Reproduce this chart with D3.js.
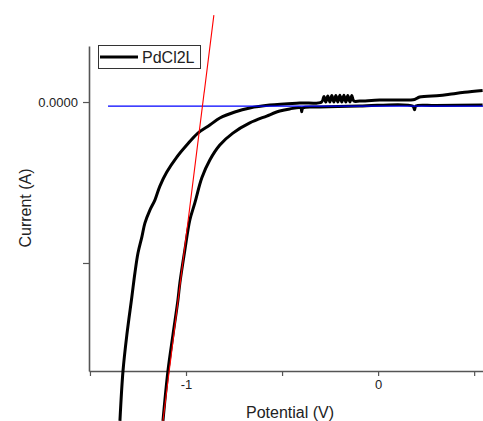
<!DOCTYPE html>
<html lang="en">
<head>
<meta charset="UTF-8">
<title>PdCl2L potential sweep</title>
<style>
  html, body { margin: 0; background: #fff; }
  text { font-family: 'Liberation Sans', Arial, sans-serif; fill: #222; }
  .trace { fill: none; stroke: #000; stroke-width: 3px; stroke-linejoin: round; }
</style>
</head>
<body>
<svg id="chart" width="483" height="421" viewBox="0 0 483 421"></svg>
<script src="https://d3js.org/d3.v7.min.js"></script>
<script>
// potential (V) / current (relative units, tick at -1 is unlabelled)
const branchOuterX = [-1.344, -1.328, -1.308, -1.282, -1.266, -1.250, -1.230, -1.214, -1.188, -1.162, -1.136,
  -1.100, -1.048, -0.996, -0.938, -0.876, -0.824, -0.746, -0.668, -0.564, -0.408, -0.294,
  -0.282, -0.272, -0.262, -0.251, -0.241, -0.230, -0.220, -0.210, -0.199, -0.189, -0.178,
  -0.168, -0.158, -0.147, -0.137, -0.126, -0.096, 0.008, 0.112, 0.190, 0.216, 0.320, 0.372, 0.450, 0.544];
const branchOuterY = [-1.981, -1.671, -1.447, -1.211, -1.062, -0.938, -0.839, -0.752, -0.671, -0.609, -0.522,
  -0.435, -0.342, -0.267, -0.193, -0.143, -0.099, -0.062, -0.037, -0.019, -0.006, 0.000,
  0.035, 0.000, 0.038, 0.000, 0.040, 0.000, 0.040, 0.000, 0.042, 0.000, 0.042, 0.000,
  0.040, 0.000, 0.040, 0.006, 0.006, 0.012, 0.012, 0.016, 0.031, 0.040, 0.048, 0.060, 0.072];

const branchInnerX = [-1.120, -1.094, -1.068, -1.042, -1.032, -1.006, -0.980, -0.954, -0.918, -0.876,
  -0.824, -0.756, -0.668, -0.580, -0.512, -0.460, -0.402, -0.398, -0.392,
  -0.304, -0.096, 0.180, 0.190, 0.196, 0.300, 0.544];
const branchInnerY = [-1.981, -1.671, -1.447, -1.230, -1.124, -0.919, -0.733, -0.627, -0.472, -0.360,
  -0.267, -0.193, -0.130, -0.087, -0.056, -0.043, -0.037, -0.060, -0.037,
  -0.031, -0.025, -0.025, -0.048, -0.025, -0.022, -0.019];

const tangentX = [-0.855, -1.120];
const tangentY = [0.540, -1.981];
const baselineX = [-1.406, 0.55];
const baselineY = [-0.025, -0.025];

const xTicks = [-1.5, -1, -0.5, 0, 0.5];
const xTickLabels = ["", "-1", "", "0", ""];
const yTicks = [0, -1];
const yTickLabels = ["0.0000", ""];
const seriesName = "PdCl2L";

const svg = d3.select("#chart");
const margin = {top: 46, right: 0, bottom: 50, left: 89};
const width = 483, height = 421;

const x = d3.scaleLinear().domain([-1.505, 0.546]).range([margin.left, width - margin.right]);
const y = d3.scaleLinear().domain([-1.671, 0.348]).range([height - margin.bottom, margin.top]);

const xAxis = svg.append("g")
  .attr("transform", "translate(0," + (height - margin.bottom) + ")")
  .call(d3.axisBottom(x).tickValues(xTicks).tickSize(5).tickSizeOuter(0).tickPadding(4)
    .tickFormat((d, i) => xTickLabels[i]));
const yAxis = svg.append("g")
  .attr("transform", "translate(" + margin.left + ",0)")
  .call(d3.axisLeft(y).tickValues(yTicks).tickSize(6).tickSizeOuter(0).tickPadding(5)
    .tickFormat((d, i) => yTickLabels[i]));

[xAxis, yAxis].forEach(function (g) {
  g.select(".domain").attr("stroke", "#555").attr("stroke-width", 1.6);
  g.selectAll(".tick line").attr("stroke", "#555").attr("stroke-width", 1.2);
  g.selectAll(".tick text").attr("font-size", 13).attr("fill", "#222")
    .style("font-family", "'Liberation Sans', Arial, sans-serif");
});

const line = d3.line().x(d => x(d[0])).y(d => y(d[1])).curve(d3.curveCatmullRom.alpha(0.5));
const straight = d3.line().x(d => x(d[0])).y(d => y(d[1]));
const zip = (xs, ys) => xs.map((v, i) => [v, ys[i]]);

svg.append("path").datum(zip(branchOuterX, branchOuterY)).attr("class", "trace").attr("d", line);
svg.append("path").datum(zip(branchInnerX, branchInnerY)).attr("class", "trace").attr("d", line);

svg.append("path").datum(zip(baselineX, baselineY))
  .attr("fill", "none").attr("stroke", "#0000ff").attr("stroke-width", 1.3).attr("d", straight);
svg.append("path").datum(zip(tangentX, tangentY))
  .attr("fill", "none").attr("stroke", "#ff0000").attr("stroke-width", 1.1).attr("d", straight);

// axis titles
svg.append("text")
  .attr("x", 290).attr("y", 418)
  .attr("text-anchor", "middle").attr("font-size", 16)
  .text("Potential (V)");
svg.append("text")
  .attr("transform", "translate(31,208) rotate(-90)")
  .attr("text-anchor", "middle").attr("font-size", 16)
  .text("Current (A)");

// legend
const legend = svg.append("g");
legend.append("rect")
  .attr("x", 98.5).attr("y", 45.5).attr("width", 102).attr("height", 23)
  .attr("fill", "#fff").attr("stroke", "#333").attr("stroke-width", 1);
legend.append("line")
  .attr("x1", 100).attr("x2", 138).attr("y1", 57).attr("y2", 57)
  .attr("stroke", "#000").attr("stroke-width", 3);
legend.append("text")
  .attr("x", 142).attr("y", 63).attr("font-size", 16)
  .text(seriesName);
</script>
</body>
</html>
